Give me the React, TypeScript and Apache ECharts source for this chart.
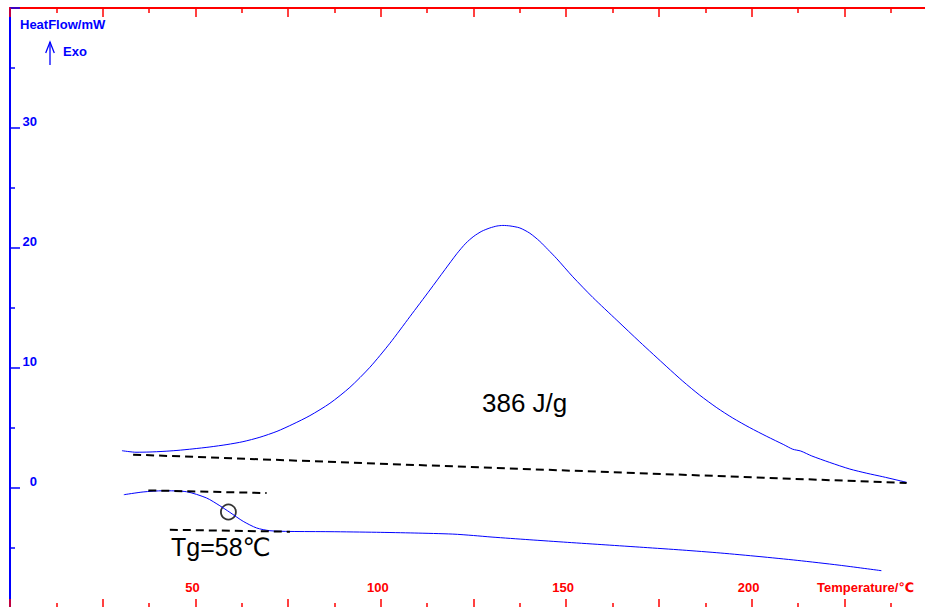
import React, { useEffect, useRef } from "react";
import * as echarts from "echarts";

// Tick labels shown on the axes
const xTickLabels = [50, 100, 150, 200];
const yTickLabels = [0, 10, 20, 30];

// Exothermic (cure) curve: [Temperature/℃, HeatFlow/mW]
const exoCurve: [number, number][] = [
  [30.2, 3.11], [33.97, 2.98], [37.75, 3.0], [41.25, 3.05], [45.03, 3.13], [49.34, 3.26],
  [53.92, 3.42], [58.51, 3.62], [62.82, 3.86], [67.4, 4.23], [71.99, 4.72], [76.3, 5.32],
  [80.88, 6.03], [86.28, 7.06], [91.67, 8.39], [97.06, 10.06], [102.45, 12.06],
  [107.85, 14.28], [113.24, 16.5], [117.28, 18.19], [120.52, 19.53], [122.94, 20.4],
  [125.1, 20.98], [127.26, 21.4], [129.42, 21.67], [131.3, 21.83], [132.92, 21.88],
  [134.81, 21.84], [137.5, 21.67], [140.2, 21.23], [142.9, 20.55], [145.05, 19.88],
  [147.48, 19.1], [151.79, 17.6], [157.18, 15.88], [163.66, 13.98], [169.86, 12.17],
  [177.14, 10.1], [181.45, 8.9], [186.03, 7.73], [190.62, 6.69], [194.93, 5.83],
  [199.51, 5.03], [204.1, 4.3], [208.68, 3.61], [211.11, 3.23], [213.26, 3.08],
  [216.23, 2.67], [221.08, 2.13], [226.48, 1.58], [231.06, 1.23], [235.37, 0.94],
  [241.84, 0.47]
];

// Baseline under the exothermic peak
const exoBaseline: [number, number][] = [[33.2, 2.78], [241.8, 0.42]];

// Glass-transition curve
const tgCurve: [number, number][] = [
  [30.7, -0.56], [35.9, -0.33], [41.3, -0.23], [47.6, -0.31], [53.0, -0.83],
  [56.6, -1.48], [59.3, -2.03], [62.9, -2.78], [66.5, -3.33], [70.1, -3.56],
  [75.5, -3.62], [86.3, -3.64], [98.8, -3.69], [109.0, -3.75], [119.4, -3.84],
  [125.0, -3.96], [130.0, -4.09], [140.0, -4.31], [150.4, -4.53], [160.7, -4.74],
  [170.9, -4.95], [181.3, -5.17], [191.7, -5.42], [202.0, -5.71], [212.3, -6.03],
  [223.6, -6.43], [235.0, -6.89]
];

// Tangent lines around Tg
const tgUpperLine: [number, number][] = [[37.3, -0.2], [69.2, -0.42]];
const tgLowerLine: [number, number][] = [[43.1, -3.48], [75.5, -3.64]];

// Tg mark
const tgPoint: [number, number][] = [[58.9, -2.0]];

const BLUE = "#0000ff";
const RED = "#ff0000";
const FONT = "'Liberation Sans', Arial, 'DejaVu Sans', 'Noto Sans CJK SC', sans-serif";

export default function App() {
  const ref = useRef<HTMLDivElement>(null);

  useEffect(() => {
    if (!ref.current) return;
    const chart = echarts.init(ref.current, undefined, { renderer: "svg" });

    const xCommon = {
      type: "value" as const,
      min: 0,
      max: 250,
      interval: 25,
      splitLine: { show: false },
      axisLine: { show: true, onZero: false, lineStyle: { color: RED, width: 2 } },
      axisTick: { show: true, inside: true, length: 9, lineStyle: { color: RED, width: 1.5 } },
      minorTick: { show: true, splitNumber: 2, length: 5, lineStyle: { color: RED, width: 1.5 } },
      minorSplitLine: { show: false }
    };

    const dashed = { color: "#000", width: 2, type: [8, 5] as number[] };

    chart.setOption({
      animation: false,
      backgroundColor: "#fff",
      grid: { left: 10, top: 8, width: 927.25, height: 600, containLabel: false },
      xAxis: [
        {
          ...xCommon,
          position: "bottom",
          axisLabel: {
            show: true,
            inside: true,
            margin: 14,
            color: RED,
            fontWeight: "bold",
            fontSize: 13,
            fontFamily: FONT,
            padding: [0, 6, 0, 0],
            formatter: (v: number) => (xTickLabels.includes(v) ? String(v) : "")
          }
        },
        {
          ...xCommon,
          position: "top",
          axisLabel: { show: false }
        }
      ],
      yAxis: {
        type: "value",
        min: -10,
        max: 40,
        interval: 10,
        position: "left",
        splitLine: { show: false },
        axisLine: { show: true, onZero: false, lineStyle: { color: BLUE, width: 2 } },
        axisTick: { show: true, inside: true, length: 10, lineStyle: { color: BLUE, width: 1.5 } },
        minorTick: { show: true, splitNumber: 2, length: 5, lineStyle: { color: BLUE, width: 1.5 } },
        axisLabel: {
          show: true,
          inside: true,
          margin: 27,
          align: "right",
          verticalAlign: "bottom",
          padding: [0, 0, 0, 0],
          color: BLUE,
          fontWeight: "bold",
          fontSize: 13,
          fontFamily: FONT,
          formatter: (v: number) => (yTickLabels.includes(v) ? String(v) : "")
        }
      },
      series: [
        {
          type: "line",
          data: exoCurve,
          xAxisIndex: 0,
          smooth: 0.25,
          symbol: "none",
          lineStyle: { color: BLUE, width: 1 }
        },
        {
          type: "line",
          data: exoBaseline,
          xAxisIndex: 0,
          symbol: "none",
          lineStyle: dashed
        },
        {
          type: "line",
          data: tgCurve,
          xAxisIndex: 0,
          smooth: 0.25,
          symbol: "none",
          lineStyle: { color: BLUE, width: 1 }
        },
        {
          type: "line",
          data: tgUpperLine,
          xAxisIndex: 0,
          symbol: "none",
          lineStyle: dashed
        },
        {
          type: "line",
          data: tgLowerLine,
          xAxisIndex: 0,
          symbol: "none",
          lineStyle: dashed
        },
        {
          type: "scatter",
          data: tgPoint,
          xAxisIndex: 0,
          symbol: "circle",
          symbolSize: 15,
          itemStyle: { color: "rgba(0,0,0,0)", borderColor: "#000", borderWidth: 1.8 }
        }
      ],
      graphic: [
        {
          type: "text",
          left: 20,
          top: 18,
          style: { text: "HeatFlow/mW", fill: BLUE, font: `bold 13px ${FONT}` }
        },
        {
          type: "text",
          left: 63,
          top: 45,
          style: { text: "Exo", fill: BLUE, font: `bold 13px ${FONT}` }
        },
        {
          type: "line",
          shape: { x1: 50, y1: 65, x2: 50, y2: 42 },
          style: { stroke: BLUE, lineWidth: 1.3 }
        },
        {
          type: "polyline",
          shape: { points: [[45.7, 53], [50, 42], [54.3, 53]] },
          style: { stroke: BLUE, lineWidth: 1.3, fill: "none" }
        },
        {
          type: "text",
          left: 817,
          top: 581,
          style: { text: "Temperature/℃", fill: RED, font: `bold 13px ${FONT}` }
        },
        {
          type: "text",
          x: 482,
          y: 403,
          style: { text: "386 J/g", fill: "#000", font: `26px ${FONT}`, textVerticalAlign: "middle" }
        },
        {
          type: "text",
          x: 171,
          y: 547,
          style: { text: "Tg=58℃", fill: "#000", font: `25px ${FONT}`, textVerticalAlign: "middle" }
        }
      ]
    });

    return () => chart.dispose();
  }, []);

  return (
    <div
      ref={ref}
      style={{ position: "fixed", left: 0, top: 0, width: 940, height: 610, background: "#fff" }}
    />
  );
}
